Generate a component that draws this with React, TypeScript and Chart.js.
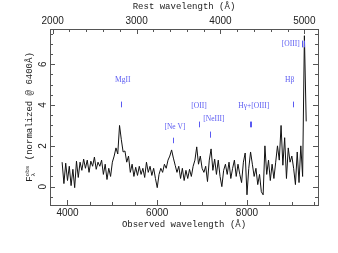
import React, { useEffect, useRef } from "react";
import { Chart, registerables } from "chart.js";

Chart.register(...registerables);

// Spectrum: evenly spaced observed wavelengths (Å) and flux values
const WAVE_START = 3880;
const WAVE_STEP = 40;
const FLUX = [
  1.2, 0.15, 1.15, 0.3, 1.0, 0.05, 0.85, -0.05, 1.25, 0.45,
  1.2, 0.8, 1.35, 0.9, 1.3, 0.7, 1.25, 1.0, 1.45, 0.85,
  1.2, 1.0, 1.3, 0.6, 1.1, 0.35, 0.9, 0.5, 1.2, 1.5,
  1.9, 1.6, 3.0, 2.3, 1.7, 1.75, 1.2, 1.5, 0.7, 1.1,
  0.5, 0.95, 0.55, 1.0, 0.6, 0.9, 0.45, 1.2, 0.7, 1.0,
  0.55, 0.9, 0.4, -0.05, 0.6, 0.9, 0.7, 1.1, 0.9, 1.3,
  1.5, 1.8, 1.4, 1.05, 0.7, 1.0, 0.4, 0.9, 0.3, 0.8,
  0.4, 0.85, 0.5, 1.0, 1.3, 1.95, 1.1, 1.5, 0.9, 0.7,
  1.0, 0.25, 1.3, 1.85, 0.8, 1.35, 0.6, 1.3, 0.5, 0.0,
  0.8, 1.1, 0.6, 1.2, 0.4, 0.9, 1.3, 0.5, 1.1, 0.6,
  0.2, 1.2, 1.65, -0.4, 0.9, 1.7, 1.1, 0.5, 0.9, 0.1,
  0.6, -0.25, -0.4, 2.0, 0.6, 1.3, 0.3, 1.1, 0.4, 1.2,
  2.0, 1.3, 3.0, 1.05, 2.4, 0.4, 1.9, 1.2, 1.5, 0.9,
  0.1, 1.7, 0.2, 2.0, 0.5, 7.4, 3.2,
];

// Axes
const OBS_MIN = 3610;
const OBS_MAX = 9583;
const REST_MIN = 1968;
const REST_MAX = 5163;
const Y_MIN = -0.9;
const Y_MAX = 7.73;
const OBS_TICKS = [4000, 6000, 8000];
const OBS_MINOR_STEP = 500;
const REST_TICKS = [2000, 3000, 4000, 5000];
const REST_MINOR_STEP = 200;
const Y_TICKS = [0, 2, 4, 6];
const Y_MINOR_STEP = 0.5;

// Line identifications (observed wavelength of label centre, label height, marker positions)
const LINE_NAMES = ["MgII", "[Ne V]", "[OII]", "[NeIII]", "Hγ+[OIII]", "Hβ", "[OIII]"];
const LINE_LABEL_WAVE = [5230, 6395, 6930, 7264, 8151, 8951, 8975];
const LINE_LABEL_Y = [5.23, 2.91, 3.96, 3.3, 3.96, 5.23, 7.0];
const LINE_MARK_WAVES = [[5192], [6357], [6923], [7182], [8060, 8088], [9031], [9218, 9270]];
const LINE_MARK_TOP = [4.17, 2.4, 3.19, 2.7, 3.19, 4.17, 7.16];
const LINE_MARK_BOTTOM = [3.89, 2.13, 2.91, 2.4, 2.91, 3.89, 6.83];

const X_TITLE = "Observed wavelength (Å)";
const X2_TITLE = "Rest wavelength (Å)";
const Y_TITLE_REST = " (normalized @ 6400Å)";

const FRAME = "#555";
const TEXT = "#222";
const BLUE = "#5a5af2";
const MONO = "'Liberation Mono', 'DejaVu Sans Mono', monospace";
const SANS = "'Liberation Sans', Arial, sans-serif";
const SERIF = "'Liberation Serif', 'DejaVu Serif', serif";

function fixBox(size: { w?: number; h?: number }) {
  return (scale: any) => {
    if (size.w !== undefined) scale.width = size.w;
    if (size.h !== undefined) scale.height = size.h;
    scale.paddingLeft = 0;
    scale.paddingRight = 0;
    scale.paddingTop = 0;
    scale.paddingBottom = 0;
  };
}

function setTicks(values: number[]) {
  return (scale: any) => {
    scale.ticks = values.map((v) => ({ value: v }));
  };
}

const plainLabel = (v: any) => String(v);

const decorPlugin = {
  id: "decor",
  afterDatasetsDraw(chart: any) {
    const ctx = chart.ctx as CanvasRenderingContext2D;
    const a = chart.chartArea;
    const sx = chart.scales.x;
    const sx2 = chart.scales.x2;
    const sy = chart.scales.y;
    ctx.save();

    // frame
    ctx.strokeStyle = FRAME;
    ctx.lineWidth = 1;
    ctx.strokeRect(Math.round(a.left) + 0.5, Math.round(a.top) + 0.5, Math.round(a.right - a.left), Math.round(a.bottom - a.top));

    const drawTicks = (scale: any, majors: number[], step: number, horiz: boolean, edges: { pos: number; dir: number }[]) => {
      const start = Math.ceil(scale.min / step) * step;
      for (let k = 0; ; k++) {
        const v = start + k * step;
        if (v > scale.max + 1e-9) break;
        const isMajor = majors.some((m) => Math.abs(m - v) < 1e-6);
        const len = isMajor ? 5 : 3;
        const p = Math.round(scale.getPixelForValue(v)) + 0.5;
        ctx.beginPath();
        for (const e of edges) {
          if (horiz) {
            ctx.moveTo(p, e.pos);
            ctx.lineTo(p, e.pos + e.dir * len);
          } else {
            ctx.moveTo(e.pos, p);
            ctx.lineTo(e.pos + e.dir * len, p);
          }
        }
        ctx.stroke();
      }
    };
    drawTicks(sx, OBS_TICKS, OBS_MINOR_STEP, true, [{ pos: a.bottom, dir: -1 }]);
    drawTicks(sx2, REST_TICKS, REST_MINOR_STEP, true, [{ pos: a.top, dir: 1 }]);
    drawTicks(sy, Y_TICKS, Y_MINOR_STEP, false, [
      { pos: a.left, dir: 1 },
      { pos: a.right, dir: -1 },
    ]);

    // line identifications
    ctx.fillStyle = BLUE;
    ctx.strokeStyle = BLUE;
    ctx.font = `7.5px ${SERIF}`;
    ctx.textAlign = "center";
    ctx.textBaseline = "middle";
    LINE_NAMES.forEach((name, i) => {
      ctx.fillText(name, sx.getPixelForValue(LINE_LABEL_WAVE[i]), sy.getPixelForValue(LINE_LABEL_Y[i]));
      const y0 = sy.getPixelForValue(LINE_MARK_TOP[i]);
      const y1 = sy.getPixelForValue(LINE_MARK_BOTTOM[i]);
      ctx.beginPath();
      LINE_MARK_WAVES[i].forEach((w) => {
        const px = Math.round(sx.getPixelForValue(w)) + 0.5;
        ctx.moveTo(px, y0);
        ctx.lineTo(px, y1);
      });
      ctx.stroke();
    });

    // rotated y tick labels, taken from the y scale's ticks
    ctx.fillStyle = TEXT;
    ctx.font = `10px ${SANS}`;
    ctx.textAlign = "center";
    ctx.textBaseline = "middle";
    (sy.ticks as any[]).forEach((t) => {
      const py = sy.getPixelForValue(t.value);
      ctx.save();
      ctx.translate(a.left - 6.5, py);
      ctx.rotate(-Math.PI / 2);
      ctx.fillText(String(t.value), 0, 0);
      ctx.restore();
    });

    // y title with sub/superscripts
    ctx.translate(30, (a.top + a.bottom) / 2);
    ctx.rotate(-Math.PI / 2);
    const bigFont = `9px ${MONO}`;
    const smallFont = `6px ${MONO}`;
    ctx.font = bigFont;
    const wF = ctx.measureText("F").width;
    const wRest = ctx.measureText(Y_TITLE_REST).width;
    ctx.font = smallFont;
    const wSmall = Math.max(ctx.measureText("obs").width, ctx.measureText("λ").width);
    const total = wF + wSmall + wRest;
    let x0 = -total / 2;
    ctx.textAlign = "left";
    ctx.textBaseline = "middle";
    ctx.font = bigFont;
    ctx.fillText("F", x0, 0);
    x0 += wF;
    ctx.font = smallFont;
    ctx.fillText("obs", x0, -3);
    ctx.fillText("λ", x0, 3.5);
    x0 += wSmall;
    ctx.font = bigFont;
    ctx.fillText(Y_TITLE_REST, x0, 0);

    ctx.restore();
  },
};

export default function App() {
  const ref = useRef<HTMLCanvasElement | null>(null);
  useEffect(() => {
    if (!ref.current) return;
    const data = FLUX.map((f, i) => ({ x: WAVE_START + i * WAVE_STEP, y: f }));
    const chart = new Chart(ref.current, {
      type: "line",
      data: {
        datasets: [
          {
            data,
            borderColor: "#111",
            borderWidth: 1,
            pointRadius: 0,
            tension: 0,
            fill: false,
          },
        ],
      },
      options: {
        animation: false,
        responsive: true,
        maintainAspectRatio: false,
        layout: { padding: 0 },
        plugins: { legend: { display: false }, tooltip: { enabled: false } },
        scales: {
          x: {
            type: "linear",
            position: "bottom",
            min: OBS_MIN,
            max: OBS_MAX,
            grid: { display: false, drawTicks: false },
            border: { display: false },
            afterBuildTicks: setTicks(OBS_TICKS),
            afterFit: fixBox({ h: 48 }),
            ticks: { color: TEXT, font: { family: SANS, size: 10 }, padding: 2, maxRotation: 0, autoSkip: false, callback: plainLabel },
            title: { display: true, text: X_TITLE, color: TEXT, font: { family: MONO, size: 9 }, padding: { top: 0, bottom: 23 } },
          },
          x2: {
            type: "linear",
            position: "top",
            min: REST_MIN,
            max: REST_MAX,
            grid: { display: false, drawTicks: false },
            border: { display: false },
            afterBuildTicks: setTicks(REST_TICKS),
            afterFit: fixBox({ h: 29 }),
            ticks: { color: TEXT, font: { family: SANS, size: 10 }, padding: 2, maxRotation: 0, autoSkip: false, callback: plainLabel },
            title: { display: true, text: X2_TITLE, color: TEXT, font: { family: MONO, size: 9 }, padding: { top: 1, bottom: 0 } },
          },
          y: {
            type: "linear",
            position: "left",
            min: Y_MIN,
            max: Y_MAX,
            grid: { display: false, drawTicks: false },
            border: { display: false },
            afterBuildTicks: setTicks(Y_TICKS),
            afterFit: fixBox({ w: 50 }),
            ticks: { display: false },
          },
          y2: {
            type: "linear",
            position: "right",
            min: Y_MIN,
            max: Y_MAX,
            grid: { display: false, drawTicks: false },
            border: { display: false },
            afterFit: fixBox({ w: 20 }),
            ticks: { display: false },
          },
        },
      },
      plugins: [decorPlugin],
    });
    return () => chart.destroy();
  }, []);
  return (
    <div style={{ position: "fixed", left: 0, top: 0, width: 338, height: 253, background: "#fff" }}>
      <canvas ref={ref} />
    </div>
  );
}
